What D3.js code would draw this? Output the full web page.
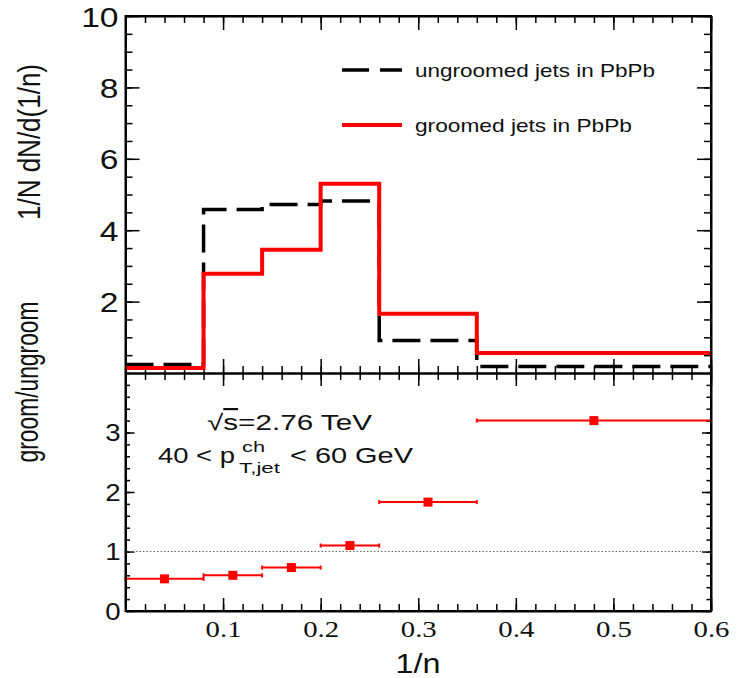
<!doctype html>
<html lang="en">
<head>
<meta charset="utf-8">
<script src="https://cdn.jsdelivr.net/npm/d3@7/dist/d3.min.js"></script>
<style>
  body { margin: 0; background: #fff; }
  svg { display: block; }
  .axis path, .axis line { stroke: #000; }
  .axis text { fill: #111; }
</style>
</head>
<body>
<script>
    // histogram bins in 1/n
    var binEdges = [0, 0.08, 0.14, 0.2, 0.26, 0.36, 0.6];
    var ungroomed = [0.24, 4.58, 4.72, 4.82, 0.91, 0.18];
    var groomed = [0.14, 2.78, 3.45, 5.30, 1.66, 0.56];
    // ratio groomed / ungroomed
    var ratioX = [0.04, 0.11, 0.17, 0.23, 0.31, 0.48];
    var ratio = [0.54, 0.60, 0.73, 1.10, 1.83, 3.20];
    // tick labels
    var topYTicks = [2, 4, 6, 8, 10];
    var botYTicks = [0, 1, 2, 3];
    var xTicks = [0.1, 0.2, 0.3, 0.4, 0.5, 0.6];
    var legendNames = ["ungroomed jets in PbPb", "groomed jets in PbPb"];

    var W = 738, H = 678;
    var left = 125.5, right = 711, top1 = 16, mid = 373, bot = 611;
    var stretch = 1.2;
    var sans = "'Liberation Sans', Arial, sans-serif";

    var svg = d3.select("body").append("svg")
        .attr("width", W).attr("height", H);

    var x = d3.scaleLinear().domain([0, 0.6]).range([left, right]);
    var yTop = d3.scaleLinear().domain([0, 10]).range([mid, top1]);
    var yBot = d3.scaleLinear().domain([0, 4]).range([bot, mid]);

    function range(a, b, s) {
        var out = [];
        for (var v = a; v <= b + 1e-9; v += s) out.push(+v.toFixed(4));
        return out;
    }

    // draws one axis; major + minor tick sets, ticks pointing inward
    function addAxis(axisFn, scale, tx, ty, majors, minors, majLen, minLen, fmt) {
        svg.append("g").attr("class", "axis")
            .attr("transform", "translate(" + tx + "," + ty + ")")
            .call(axisFn(scale).tickValues(minors).tickSize(-minLen).tickSizeOuter(0).tickFormat(""))
            .call(function(g) { g.selectAll("line").attr("stroke-width", 1.5); g.select(".domain").attr("stroke-width", 2); });
        return svg.append("g").attr("class", "axis")
            .attr("transform", "translate(" + tx + "," + ty + ")")
            .call(axisFn(scale).tickValues(majors).tickSize(-majLen).tickSizeOuter(0).tickFormat(fmt || ""))
            .call(function(g) { g.selectAll("line").attr("stroke-width", 1.5); g.select(".domain").remove(); });
    }

    var xMinor = range(0.02, 0.6, 0.02);

    // top panel axes
    var gl = addAxis(d3.axisLeft, yTop, left, 0, topYTicks, range(0.5, 10, 0.5), 14, 7, d3.format("d"));
    gl.selectAll("text")
        .attr("x", -7 / stretch).attr("dy", "0.36em")
        .attr("transform", "scale(" + stretch + ",1)")
        .style("font-family", sans).style("font-size", "28px");
    addAxis(d3.axisRight, yTop, right, 0, topYTicks, range(0.5, 10, 0.5), 14, 7);
    addAxis(d3.axisTop, x, 0, top1, xTicks, xMinor, 14, 7);
    addAxis(d3.axisBottom, x, 0, mid, xTicks, xMinor, 14, 7);

    // bottom panel axes
    var gbl = addAxis(d3.axisLeft, yBot, left, 0, botYTicks, range(0.2, 4, 0.2), 9, 4.5, d3.format("d"));
    gbl.selectAll("text")
        .attr("x", -5 / stretch).attr("dy", "0.36em")
        .attr("transform", "scale(" + stretch + ",1)")
        .style("font-family", sans).style("font-size", "23px");
    addAxis(d3.axisRight, yBot, right, 0, botYTicks, range(0.2, 4, 0.2), 9, 4.5);
    addAxis(d3.axisTop, x, 0, mid, xTicks, xMinor, 13, 7);
    var gbx = addAxis(d3.axisBottom, x, 0, bot, xTicks, xMinor, 13, 7, d3.format(".1f"));
    gbx.selectAll(".tick text")
        .attr("x", 0).attr("y", 26).attr("dy", null)
        .attr("transform", "scale(" + stretch + ",1)")
        .style("font-family", "'Liberation Serif', 'Times New Roman', serif").style("font-size", "24px");

    // histograms
    function stepPoints(vals) {
        var pts = vals.map(function(v, i) { return [binEdges[i], v]; });
        pts.push([binEdges[binEdges.length - 1], vals[vals.length - 1]]);
        return pts;
    }
    var histLine = d3.line()
        .x(function(d) { return x(d[0]); })
        .y(function(d) { return yTop(d[1]); })
        .curve(d3.curveStepAfter);

    svg.append("path")
        .attr("d", histLine(stepPoints(ungroomed)))
        .attr("fill", "none").attr("stroke", "#000")
        .attr("stroke-width", 3.5).attr("stroke-dasharray", "28,10");
    svg.append("path")
        .attr("d", histLine(stepPoints(groomed)))
        .attr("fill", "none").attr("stroke", "#ff0000")
        .attr("stroke-width", 4);

    // legend
    var legend = svg.append("g");
    legend.append("line").attr("x1", 342).attr("x2", 402).attr("y1", 70).attr("y2", 70)
        .attr("stroke", "#000").attr("stroke-width", 3.5).attr("stroke-dasharray", "27,11");
    legend.append("line").attr("x1", 342).attr("x2", 402).attr("y1", 125).attr("y2", 125)
        .attr("stroke", "#ff0000").attr("stroke-width", 4);
    legend.selectAll("text.leg").data(legendNames).enter().append("text")
        .attr("x", 415).attr("y", function(d, i) { return i === 0 ? 77 : 132; })
        .attr("textLength", function(d, i) { return i === 0 ? 240 : 217; })
        .attr("lengthAdjust", "spacingAndGlyphs")
        .style("font-family", sans).style("font-size", "18.5px")
        .attr("fill", "#111")
        .text(function(d) { return d; });

    // ratio panel: line at 1
    svg.append("line")
        .attr("x1", x(0)).attr("x2", x(0.6)).attr("y1", yBot(1)).attr("y2", yBot(1))
        .attr("stroke", "#666").attr("stroke-width", 1.2).attr("stroke-dasharray", "1.5,2");

    var pts = ratio.map(function(v, i) {
        return { x: ratioX[i], y: v, lo: binEdges[i], hi: binEdges[i + 1] };
    });
    var pg = svg.append("g");
    pg.selectAll("line.err").data(pts).enter().append("line")
        .attr("x1", function(d) { return x(d.lo); }).attr("x2", function(d) { return x(d.hi); })
        .attr("y1", function(d) { return yBot(d.y); }).attr("y2", function(d) { return yBot(d.y); })
        .attr("stroke", "#ff0000").attr("stroke-width", 2);
    ["lo", "hi"].forEach(function(k) {
        pg.selectAll("line.cap-" + k).data(pts).enter().append("line")
            .attr("x1", function(d) { return x(d[k]); }).attr("x2", function(d) { return x(d[k]); })
            .attr("y1", function(d) { return yBot(d.y) - 2; }).attr("y2", function(d) { return yBot(d.y) + 2; })
            .attr("stroke", "#ff0000").attr("stroke-width", 2);
    });
    pg.selectAll("rect").data(pts).enter().append("rect")
        .attr("x", function(d) { return x(d.x) - 4.5; }).attr("y", function(d) { return yBot(d.y) - 4.5; })
        .attr("width", 9).attr("height", 9).attr("fill", "#ff0000");

    // annotation text
    var t1 = svg.append("text").attr("x", 207).attr("y", 430)
        .attr("textLength", 165).attr("lengthAdjust", "spacingAndGlyphs")
        .style("font-family", sans).style("font-size", "22px").attr("fill", "#111");
    t1.append("tspan").text("\u221A");
    t1.append("tspan").style("text-decoration", "overline").text("s");
    t1.append("tspan").text("=2.76 TeV");

    svg.append("text").attr("x", 158).attr("y", 463)
        .attr("textLength", 77).attr("lengthAdjust", "spacingAndGlyphs")
        .style("font-family", sans).style("font-size", "22px").attr("fill", "#111")
        .text("40 < p");
    svg.append("text").attr("x", 242).attr("y", 452)
        .attr("textLength", 23).attr("lengthAdjust", "spacingAndGlyphs")
        .style("font-family", sans).style("font-size", "15px").attr("fill", "#111")
        .text("ch");
    svg.append("text").attr("x", 239).attr("y", 473)
        .attr("textLength", 41).attr("lengthAdjust", "spacingAndGlyphs")
        .style("font-family", sans).style("font-size", "15px").attr("fill", "#111")
        .text("T,jet");
    svg.append("text").attr("x", 290).attr("y", 463)
        .attr("textLength", 123).attr("lengthAdjust", "spacingAndGlyphs")
        .style("font-family", sans).style("font-size", "22px").attr("fill", "#111")
        .text("< 60 GeV");

    // axis titles
    svg.append("text")
        .attr("transform", "translate(40,142) scale(" + stretch + ",1) rotate(-90)")
        .attr("text-anchor", "middle")
        .style("font-family", sans).style("font-size", "26px").attr("fill", "#111")
        .text("1/N dN/d(1/n)");
    svg.append("text")
        .attr("transform", "translate(38,382) scale(1.5,1) rotate(-90)")
        .attr("text-anchor", "middle")
        .attr("textLength", 161).attr("lengthAdjust", "spacingAndGlyphs")
        .style("font-family", sans).style("font-size", "21.5px").attr("fill", "#111")
        .text("groom/ungroom");
    svg.append("text")
        .attr("transform", "translate(418,673) scale(" + stretch + ",1)")
        .attr("text-anchor", "middle")
        .style("font-family", sans).style("font-size", "27px").attr("fill", "#111")
        .text("1/n");

    // frame edges on top
    svg.append("rect").attr("x", left).attr("y", top1).attr("width", right - left).attr("height", bot - top1)
        .attr("fill", "none").attr("stroke", "#000").attr("stroke-width", 2);
</script>
</body>
</html>
